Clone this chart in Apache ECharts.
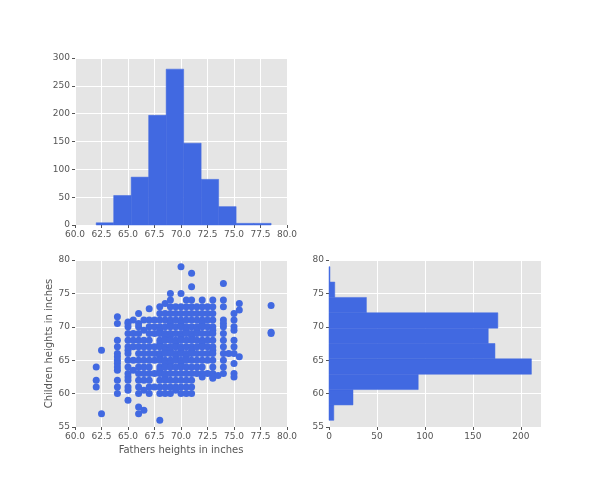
<!DOCTYPE html>
<html>
<head>
<meta charset="UTF-8">
<script src="https://cdn.jsdelivr.net/npm/echarts@6/dist/echarts.min.js"></script>
<style>
  body{margin:0;background:#fff;}
  #main{width:600px;height:480px;}
</style>
</head>
<body>
<div id="main"></div>
<script>
// top histogram (fathers)
var fatherEdges = [62, 63.65, 65.3, 66.95, 68.6, 70.25, 71.9, 73.55, 75.2, 76.85, 78.5];
var fatherCounts = [4, 53, 86, 197, 280, 147, 82, 33, 3, 3];
// right histogram (children)
var childEdges = [56, 58.3, 60.6, 62.9, 65.2, 67.5, 69.8, 72.1, 74.4, 76.7, 79];
var childCounts = [5, 25, 93, 211, 173, 166, 176, 39, 6, 1];
// scatter columns: father height -> children heights
var scatterCols = [
  [62, [64, 62, 61]],
  [62.5, [66.5, 57]],
  [64, [71.5, 70.5, 68, 67, 66, 65.5, 65, 64.5, 64, 63.5, 62, 61, 60]],
  [65, [70.7, 70.5, 70, 69, 68, 67, 66.5, 66, 65, 64, 63, 62.5, 62, 61, 60.5, 59]],
  [65.5, [71, 69, 68, 67, 65, 63.5]],
  [66, [72, 70.5, 70, 69, 68, 67, 66, 65, 64, 63, 62, 61, 60, 58, 57]],
  [66.5, [71, 69.5, 68, 67, 66, 65, 64, 63, 62, 60.5, 57.5]],
  [67, [72.7, 71, 70, 69, 68, 67, 66, 65, 64, 63, 62, 61, 60]],
  [67.5, [71, 70, 69, 67, 66, 65, 63, 61]],
  [68, [73, 72, 71, 70, 69.5, 69, 68, 67.5, 67, 66, 65.5, 65, 64, 63.5, 63, 62, 61, 60, 56]],
  [68.5, [73.5, 72, 71, 70, 69, 68.5, 68, 67, 66.5, 66, 65, 64.5, 64, 63, 62.5, 62, 61, 60]],
  [69, [75, 74, 73, 72, 71, 70.5, 70, 69, 68.5, 68, 67, 66.5, 66, 65, 64.5, 64, 63, 62, 61, 60]],
  [69.5, [73, 72, 71, 70, 69, 68, 67.5, 67, 66, 65.5, 65, 64, 63, 62, 61, 60.5]],
  [70, [79, 75, 73, 72, 71, 70.5, 70, 69, 68.5, 68, 67, 66.5, 66, 65, 64.5, 64, 63, 62, 61, 60]],
  [70.5, [74, 73, 72, 71, 70, 69.5, 69, 68, 67, 66, 65.5, 65, 64, 63, 62, 61, 60]],
  [71, [78, 76, 74, 73, 72, 71, 70, 69, 68.5, 68, 67, 66.5, 66, 65, 64, 63, 62, 61, 60]],
  [71.5, [73, 72, 71, 70, 69.5, 69, 68, 67, 66, 65, 64, 63]],
  [72, [74, 73, 72, 71, 70.5, 70, 69, 68, 67.5, 67, 66, 65, 64, 63, 62.5]],
  [72.5, [73, 72, 71, 70, 69, 68, 67, 66, 65, 63]],
  [73, [74, 73, 72, 71, 70, 69.5, 69, 68, 67, 66.5, 66, 65, 64, 63, 62.5, 62.3]],
  [73.5, [62.7]],
  [74, [76.5, 74, 73, 71, 70.5, 70, 69, 68, 67, 66, 65, 64, 63]],
  [74.5, [66]],
  [75, [72, 71, 70, 69.5, 68, 67, 66, 64.5, 63, 62.5]],
  [75.5, [73.5, 72.5, 65.5]],
  [78.5, [73.2, 69.2, 69]]
];

var blue = '#4169e1';
var pts = [];
scatterCols.forEach(function (c) {
  c[1].forEach(function (y) { pts.push([c[0], y]); });
});
var topBins = fatherCounts.map(function (v, i) { return [fatherEdges[i], fatherEdges[i + 1], v]; });
var rightBins = childCounts.map(function (v, i) { return [childEdges[i], childEdges[i + 1], v]; });

var font = 'DejaVu Sans';
function lbl(extra) { return Object.assign({color: '#555', fontSize: 9, fontFamily: font, margin: 5}, extra || {}); }
function ax(extra) {
  return Object.assign({
    axisLine: {show: false},
    axisTick: {show: true, length: 3, lineStyle: {color: '#555'}},
    axisLabel: lbl(),
    splitLine: {show: true, lineStyle: {color: '#fff', width: 1}}
  }, extra);
}
var fmt1 = function (v) { return v.toFixed(1); };

var chart = echarts.init(document.getElementById('main'));
chart.setOption({
  animation: false,
  grid: [
    {left: 75, top: 58, width: 212, height: 167, backgroundColor: '#e5e5e5', show: true, borderWidth: 0},
    {left: 75, top: 260, width: 212, height: 167, backgroundColor: '#e5e5e5', show: true, borderWidth: 0},
    {left: 329, top: 260, width: 212, height: 167, backgroundColor: '#e5e5e5', show: true, borderWidth: 0}
  ],
  xAxis: [
    ax({type: 'value', gridIndex: 0, min: 60, max: 80, interval: 2.5, axisLabel: lbl({formatter: fmt1})}),
    ax({type: 'value', gridIndex: 1, min: 60, max: 80, interval: 2.5, axisLabel: lbl({formatter: fmt1}),
        name: 'Fathers heights in inches', nameLocation: 'middle', nameGap: 18,
        nameTextStyle: {color: '#555', fontSize: 10, fontFamily: font}}),
    ax({type: 'value', gridIndex: 2, min: 0, max: 221, interval: 50, axisLabel: lbl({showMaxLabel: false})})
  ],
  yAxis: [
    ax({type: 'value', gridIndex: 0, min: 0, max: 300, interval: 50}),
    ax({type: 'value', gridIndex: 1, min: 55, max: 80, interval: 5,
        name: 'Children heights in inches', nameLocation: 'middle', nameGap: 20,
        nameTextStyle: {color: '#555', fontSize: 10, fontFamily: font}}),
    ax({type: 'value', gridIndex: 2, min: 55, max: 80, interval: 5})
  ],
  series: [
    {
      type: 'custom', xAxisIndex: 0, yAxisIndex: 0, data: topBins,
      renderItem: function (params, api) {
        var a = api.coord([api.value(0), api.value(2)]);
        var b = api.coord([api.value(1), 0]);
        return {type: 'rect', shape: {x: a[0], y: a[1], width: b[0] - a[0], height: b[1] - a[1]},
                style: {fill: blue, stroke: blue, lineWidth: 0.5}};
      }
    },
    {
      type: 'scatter', xAxisIndex: 1, yAxisIndex: 1, data: pts, symbolSize: 7,
      itemStyle: {color: blue, opacity: 1}
    },
    {
      type: 'custom', xAxisIndex: 2, yAxisIndex: 2, data: rightBins,
      renderItem: function (params, api) {
        var a = api.coord([0, api.value(1)]);
        var b = api.coord([api.value(2), api.value(0)]);
        return {type: 'rect', shape: {x: a[0], y: a[1], width: b[0] - a[0], height: b[1] - a[1]},
                style: {fill: blue, stroke: blue, lineWidth: 0.5}};
      }
    }
  ]
});
</script>
</body>
</html>
